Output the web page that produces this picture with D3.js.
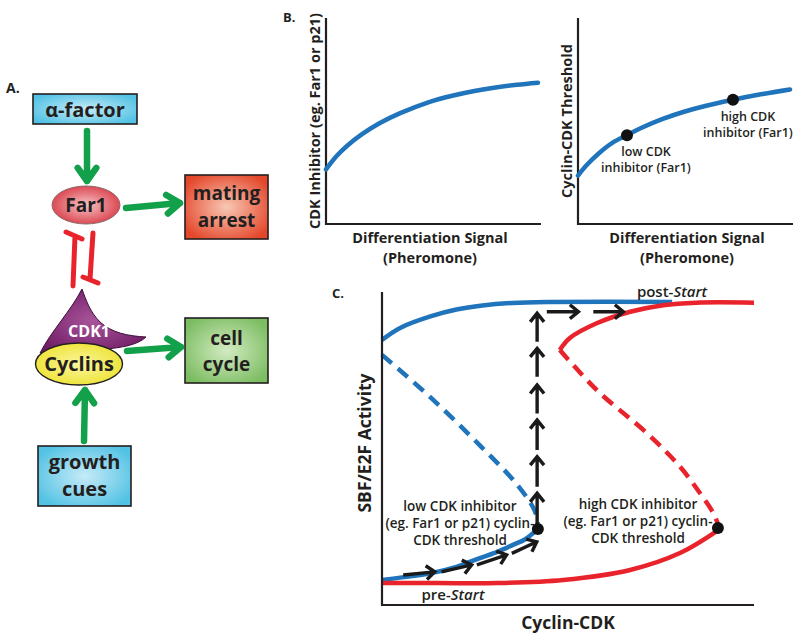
<!DOCTYPE html>
<html><head><meta charset="utf-8">
<script src="https://cdn.jsdelivr.net/npm/d3@7"></script>
<style>
body{margin:0;background:#fff}
svg{display:block}
text{font-family:'Open Sans',sans-serif;font-weight:700;fill:#231f20}
</style>
</head><body>
<svg id="c" width="800" height="640"></svg>
<script>
// ---------------- data ----------------
// Panel B (left): CDK inhibitor vs differentiation signal (0-100 units)
const inhibitorCurve = [[0,26.5],[5,33],[10,38],[17,43.6],[25,48.8],[35,53.8],[48.6,59.2],[60,62.4],[70,64.6],[80,66.3],[90,67.6],[100,68.6]];
// Panel B (right): Cyclin-CDK threshold vs differentiation signal
const thresholdCurve = [[0,23.5],[4,28.5],[10,34.5],[16,39.3],[23.1,43.1],[30,46.7],[40,51],[50,54.5],[60,57.3],[73.1,60.3],[85,62.7],[100,65.3]];
const thresholdMarks = [[23.1,43.1],[73.1,60.3]];
const thresholdLabels = [["low CDK","inhibitor (Far1)"],["high CDK","inhibitor (Far1)"]];
// Panel C: SBF/E2F activity vs Cyclin-CDK (0-100 units)
const lowUpper  = [[0,84.7],[5,88.6],[13,92.2],[20,94.4],[27,95.7],[35,96.5],[45,96.8],[78,96.8]];
const lowMiddle = [[0,79.9],[12.9,66.5],[26.3,51],[36.3,38.5],[41.1,30],[41.9,26]];
const lowLower  = [[0,8],[6,8.9],[12.9,10.1],[20,12.2],[26.3,15],[31,17],[35.2,19.2],[38.5,21],[41.9,24.3]];
const highUpper = [[47.8,81.5],[50.5,85.3],[57.7,90],[66.7,93.7],[75.6,95.8],[84.5,96.6],[100,96.6]];
const highMiddle= [[47.8,81.5],[57.7,68.7],[71.2,54.9],[80.1,44.2],[85.5,35.7],[89.1,29.3],[90.4,25.6]];
const highLower = [[0,7],[15,7],[30.9,7],[48.7,8],[66.7,11.2],[80.1,16.6],[90.1,23.7]];
const thresholdPoints = [[41.9,24.3],[90.3,24.6]];
const upArrows = [[25.0,35.7],[37.8,47.4],[49.5,59.1],[61.2,70.3],[72.9,82.0],[84.1,93.2]];
const upArrowX = 41.7;
const topArrows = [[44.3,52.8],[56.8,64.9]];
const topArrowY = 93.7;
const rampArrows = [[[5.7,9.6],[14.2,10.6]],[[16.0,10.6],[24.1,12.8]],[[25.5,12.8],[33.5,16.0]],[[34.9,16.5],[41.6,20.2]]];
const thresholdTexts = [["low CDK inhibitor","(eg. Far1 or p21) cyclin-","CDK threshold"],["high CDK inhibitor","(eg. Far1 or p21) cyclin-","CDK threshold"]];

// ---------------- setup ----------------
const svg = d3.select("#c");
const defs = svg.append("defs");
const BLUE="#1f74bb", RED="#e9232b", GREEN="#13a04a", INK="#231f20";

function radial(id, inner, outer){
  const g = defs.append("radialGradient").attr("id",id).attr("cx","50%").attr("cy","50%").attr("r","60%");
  g.append("stop").attr("offset","0%").attr("stop-color",inner);
  g.append("stop").attr("offset","100%").attr("stop-color",outer);
}
radial("gBlue","#c6ebf7","#52c2e4");
radial("gOrange","#f8c8b4","#e4472b");
radial("gGreen","#d3ebc2","#7cbd62");
radial("gFar1","#f6c3c6","#d7313c");
radial("gCyc","#fbf6a0","#ece12a");
radial("gCdk","#a9559b","#6f1c66");

// ---------------- Panel A (schematic) ----------------
const A = svg.append("g");
A.append("text").attr("x",6).attr("y",93).attr("font-size",14).text("A.");

function box(x,y,w,h,fill,lines,fs,dy,lh){
  A.append("rect").attr("x",x).attr("y",y).attr("width",w).attr("height",h)
    .attr("fill",`url(#${fill})`).attr("stroke",INK).attr("stroke-width",1.6);
  lines.forEach((t,i)=>{
    A.append("text").attr("x",x+w/2).attr("y",y+dy+i*lh).attr("text-anchor","middle")
      .attr("font-size",fs).text(t);
  });
}
box(33,94,104,30,"gBlue",["α-factor"],20,23,0);
box(185,175,83,64,"gOrange",["mating","arrest"],19,25,27);
box(185,318,83,65,"gGreen",["cell","cycle"],19,27,26);
box(38,446,93,60,"gBlue",["growth","cues"],20,23,27);

function garrow(x1,y1,x2,y2){
  const ang = Math.atan2(y2-y1,x2-x1), L=16, W=0.62;
  const p = d3.path();
  p.moveTo(x1,y1); p.lineTo(x2,y2);
  p.moveTo(x2-L*Math.cos(ang-W), y2-L*Math.sin(ang-W)); p.lineTo(x2,y2);
  p.lineTo(x2-L*Math.cos(ang+W), y2-L*Math.sin(ang+W));
  A.append("path").attr("d",p.toString()).attr("fill","none").attr("stroke",GREEN)
    .attr("stroke-width",6.5).attr("stroke-linecap","round").attr("stroke-linejoin","round");
}
garrow(87,131,87,181);
garrow(126,208,180,203);
garrow(127,351,181,347);
garrow(84,441,85,390);

// Far1
A.append("ellipse").attr("cx",86).attr("cy",205).attr("rx",34).attr("ry",19)
  .attr("fill","url(#gFar1)").attr("stroke","#8a6a6a").attr("stroke-width",1);
A.append("text").attr("x",86).attr("y",212).attr("text-anchor","middle").attr("font-size",19).text("Far1");

// inhibition bars
const inh = d3.path();
inh.moveTo(66,232); inh.lineTo(82,239);
inh.moveTo(75,236); inh.lineTo(73,286);
inh.moveTo(93,233); inh.lineTo(90,279);
inh.moveTo(83,277); inh.lineTo(98,283);
A.append("path").attr("d",inh.toString()).attr("fill","none").attr("stroke",RED)
  .attr("stroke-width",5).attr("stroke-linecap","round");

// CDK1
A.append("path").attr("d","M82,289 C86,300 90,312 100,322 C112,333 128,336 146,337 C138,345 120,348 105,349 L40,353 C52,330 70,312 82,289 Z")
  .attr("fill","url(#gCdk)").attr("stroke","#3c0d38").attr("stroke-width",1);
A.append("text").attr("x",89).attr("y",337).attr("text-anchor","middle").attr("font-size",16)
  .style("fill","#fff").text("CDK1");
// Cyclins
A.append("ellipse").attr("cx",79).attr("cy",364).attr("rx",43.5).attr("ry",21)
  .attr("fill","url(#gCyc)").attr("stroke",INK).attr("stroke-width",1.4);
A.append("text").attr("x",79).attr("y",371).attr("text-anchor","middle").attr("font-size",20).text("Cyclins");

// ---------------- Panel B ----------------
svg.append("text").attr("x",283).attr("y",22).attr("font-size",13).text("B.");

function panelB(x0,x1,y0,y1,data,ylab,xlabX){
  const x = d3.scaleLinear().domain([0,100]).range([x0,x1]);
  const y = d3.scaleLinear().domain([0,100]).range([y1,y0]);
  const g = svg.append("g");
  g.append("path").attr("d",`M${x0},${y0}V${y1}H${x1+3}`).attr("fill","none").attr("stroke",INK).attr("stroke-width",2.2);
  g.append("path").datum(data).attr("d",d3.line().x(d=>x(d[0])).y(d=>y(d[1])).curve(d3.curveCatmullRom.alpha(0.5)))
    .attr("fill","none").attr("stroke",BLUE).attr("stroke-width",4.5).attr("stroke-linecap","round");
  g.append("text").attr("transform",`translate(${x0-6},${(y0+y1)/2}) rotate(-90)`).attr("text-anchor","middle")
    .attr("font-size",14.5).text(ylab);
  g.append("text").attr("x",xlabX).attr("y",y1+19).attr("text-anchor","middle").attr("font-size",14.5).text("Differentiation Signal");
  g.append("text").attr("x",xlabX).attr("y",y1+39).attr("text-anchor","middle").attr("font-size",14.5).text("(Pheromone)");
  return {x,y,g};
}
panelB(326,538,18,224,inhibitorCurve,"CDK Inhibitor (eg. Far1 or p21)",430);
const br = panelB(578,790,18,224,thresholdCurve,"Cyclin-CDK Threshold",687);
br.g.selectAll("circle.m").data(thresholdMarks).join("circle").attr("class","m")
  .attr("cx",d=>br.x(d[0])).attr("cy",d=>br.y(d[1])).attr("r",6).attr("fill","#111");
thresholdMarks.forEach((d,i)=>{
  thresholdLabels[i].forEach((t,j)=>{
    br.g.append("text").attr("x",br.x(d[0])+(i?15:19)).attr("y",br.y(d[1])+21+j*16)
      .attr("text-anchor","middle").attr("font-size",12.5).style("font-weight",600).text(t);
  });
});

// ---------------- Panel C ----------------
svg.append("text").attr("x",332).attr("y",298).attr("font-size",13).text("C.");
const cx = d3.scaleLinear().domain([0,100]).range([382,754]);
const cy = d3.scaleLinear().domain([0,100]).range([605,292]);
const C = svg.append("g");
const line = d3.line().x(d=>cx(d[0])).y(d=>cy(d[1])).curve(d3.curveCatmullRom.alpha(0.5));
function curve(data,color,dashed){
  C.append("path").datum(data).attr("d",line).attr("fill","none").attr("stroke",color)
    .attr("stroke-width",4.5).attr("stroke-dasharray",dashed?"13,8":null);
}
curve(lowUpper,BLUE,false);
curve(lowMiddle,BLUE,true);
curve(lowLower,BLUE,false);
curve(highLower,RED,false);
curve(highMiddle,RED,true);
curve(highUpper,RED,false);

C.append("path").attr("d","M382,292V605H754").attr("fill","none").attr("stroke",INK).attr("stroke-width",2.2);

function karrow(x1,y1,x2,y2){
  const ang = Math.atan2(y2-y1,x2-x1), L=11, W=0.68;
  const p = d3.path();
  p.moveTo(x1,y1); p.lineTo(x2,y2);
  p.moveTo(x2-L*Math.cos(ang-W), y2-L*Math.sin(ang-W)); p.lineTo(x2,y2);
  p.lineTo(x2-L*Math.cos(ang+W), y2-L*Math.sin(ang+W));
  C.append("path").attr("d",p.toString()).attr("fill","none").attr("stroke","#1a1a1a")
    .attr("stroke-width",3.4).attr("stroke-linejoin","miter");
}
upArrows.forEach(d=>karrow(cx(upArrowX),cy(d[0]),cx(upArrowX),cy(d[1])));
topArrows.forEach(d=>karrow(cx(d[0]),cy(topArrowY),cx(d[1]),cy(topArrowY)));
rampArrows.forEach(d=>karrow(cx(d[0][0]),cy(d[0][1]),cx(d[1][0]),cy(d[1][1])));

C.selectAll("circle.t").data(thresholdPoints).join("circle").attr("class","t")
  .attr("cx",d=>cx(d[0])).attr("cy",d=>cy(d[1])).attr("r",6).attr("fill","#111");

const tx=[460,638], ty=[511,509];
thresholdTexts.forEach((ls,i)=>ls.forEach((t,j)=>{
  C.append("text").attr("x",tx[i]).attr("y",ty[i]+j*17).attr("text-anchor","middle").attr("font-size",13.5).style("font-weight",600).text(t);
}));
const ps = C.append("text").attr("x",453).attr("y",600).attr("text-anchor","middle").attr("font-size",15).style("font-weight",600);
ps.append("tspan").text("pre-"); ps.append("tspan").attr("font-style","italic").text("Start");
const po = C.append("text").attr("x",672).attr("y",297).attr("text-anchor","middle").attr("font-size",15).style("font-weight",600);
po.append("tspan").text("post-"); po.append("tspan").attr("font-style","italic").text("Start");

C.append("text").attr("transform","translate(371,443) rotate(-90)").attr("text-anchor","middle").attr("font-size",17.5).text("SBF/E2F Activity");
C.append("text").attr("x",568).attr("y",629).attr("text-anchor","middle").attr("font-size",17.5).text("Cyclin-CDK");
</script>
</body></html>
